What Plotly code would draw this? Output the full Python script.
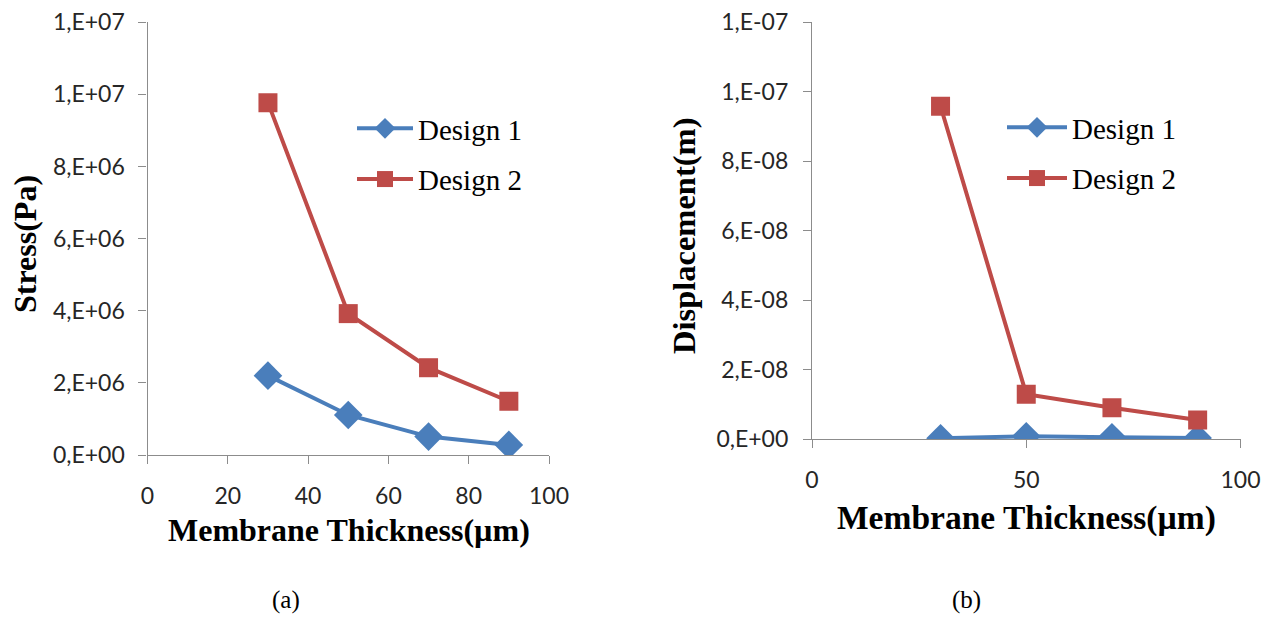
import plotly.graph_objects as go

thickness = [30, 50, 70, 90]
stress_d1 = [2.2e6, 1.11e6, 0.51e6, 0.28e6]
stress_d2 = [9.77e6, 3.92e6, 2.42e6, 1.49e6]
disp_d1 = [0.02e-8, 0.08e-8, 0.05e-8, 0.03e-8]
disp_d2 = [9.58e-8, 1.29e-8, 0.9e-8, 0.55e-8]

stress_ticks = [0, 2e6, 4e6, 6e6, 8e6, 1e7, 1.2e7]
stress_ticktext = ["0,E+00", "2,E+06", "4,E+06", "6,E+06", "8,E+06", "1,E+07", "1,E+07"]
disp_ticks = [0, 2e-8, 4e-8, 6e-8, 8e-8, 1e-7, 1.2e-7]
disp_ticktext = ["0,E+00", "2,E-08", "4,E-08", "6,E-08", "8,E-08", "1,E-07", "1,E-07"]
x_ticks_a = [0, 20, 40, 60, 80, 100]
x_ticks_b = [0, 50, 100]

BLUE = "#4a7ebb"
RED = "#be4b48"
AXIS = "#8c8c8c"
TICKFONT = dict(family="Lato, 'Open Sans', sans-serif", size=23, color="#262626")
SERIF = "'Liberation Serif', 'Times New Roman', serif"

fig = go.Figure()

def add_series(x, y, name, color, symbol, msize, xa, ya, legend, group):
    fig.add_trace(go.Scatter(
        x=x, y=y, name=name, mode="lines+markers",
        line=dict(color=color, width=4),
        marker=dict(symbol=symbol, size=msize, color=color),
        xaxis=xa, yaxis=ya, legend=legend, legendgroup=group,
    ))

add_series(thickness, stress_d1, "Design 1", BLUE, "diamond", 22, "x", "y", "legend", "a1")
add_series(thickness, stress_d2, "Design 2", RED, "square", 19, "x", "y", "legend", "a2")
add_series(thickness, disp_d1, "Design 1", BLUE, "diamond", 22, "x2", "y2", "legend2", "b1")
add_series(thickness, disp_d2, "Design 2", RED, "square", 19, "x2", "y2", "legend2", "b2")

# page is 1277x617; the html body has an 8px margin, so the figure starts at (8, 8)
OFF = 8
W, H = 1277 - OFF, 617 - OFF

def px_x(p):
    return (p - OFF) / W

def px_y(p):
    return 1 - (p - OFF) / H

axis_common = dict(showline=True, linecolor=AXIS, linewidth=1.3, ticks="outside",
                   ticklen=8, tickcolor=AXIS, tickwidth=1.3, showgrid=False,
                   zeroline=False, tickfont=TICKFONT, fixedrange=True, automargin=False,
                   ticklabeloverflow="allow")

legend_common = dict(xanchor="left", yanchor="top",
                     font=dict(family=SERIF, size=29, color="black"),
                     traceorder="grouped", tracegroupgap=10, bgcolor="rgba(0,0,0,0)")

fig.update_layout(
    width=W, height=H, margin=dict(l=0, r=0, t=0, b=0, autoexpand=False),
    paper_bgcolor="white", plot_bgcolor="white",
    xaxis=dict(domain=[px_x(147.5), px_x(549)], range=[0, 100], tickvals=x_ticks_a,
               anchor="y", ticklabelstandoff=12, **axis_common),
    yaxis=dict(domain=[px_y(455), px_y(22)], range=[0, 1.2e7 * 1.0005], tickvals=stress_ticks,
               ticktext=stress_ticktext, anchor="x", ticklabelstandoff=9, **axis_common),
    xaxis2=dict(domain=[px_x(812), px_x(1240.5)], range=[0, 100], tickvals=x_ticks_b,
                anchor="y2", ticklabelstandoff=12, **axis_common),
    yaxis2=dict(domain=[px_y(439), px_y(22)], range=[0, 1.2e-7 * 1.0005], tickvals=disp_ticks,
                ticktext=disp_ticktext, anchor="x2", ticklabelstandoff=10, **axis_common),
    legend=dict(x=px_x(352), y=px_y(103), itemwidth=56, **legend_common),
    legend2=dict(x=px_x(1002), y=px_y(102), itemwidth=60, **legend_common),
    showlegend=True,
)

annotations = [
    dict(text="<b>Membrane Thickness(µm)</b>", x=px_x(349), y=px_y(530), size=32),
    dict(text="<b>Membrane Thickness(µm)</b>", x=px_x(1026), y=px_y(518), size=33.5),
    dict(text="(a)", x=px_x(286), y=px_y(600), size=25),
    dict(text="(b)", x=px_x(966), y=px_y(600), size=25),
]
for a in annotations:
    fig.add_annotation(text=a["text"], x=a["x"], y=a["y"], xref="paper", yref="paper",
                       showarrow=False, xanchor="center", yanchor="middle",
                       font=dict(family=SERIF, size=a["size"], color="black"))

fig.add_annotation(text="<b>Stress(Pa)</b>", x=px_x(25), y=px_y(244), xref="paper", yref="paper",
                   showarrow=False, textangle=-90, xanchor="center", yanchor="middle",
                   font=dict(family=SERIF, size=32, color="black"))
fig.add_annotation(text="<b>Displacement(m)</b>", x=px_x(684), y=px_y(236), xref="paper", yref="paper",
                   showarrow=False, textangle=-90, xanchor="center", yanchor="middle",
                   font=dict(family=SERIF, size=32.5, color="black"))

fig.write_html("out.html")
